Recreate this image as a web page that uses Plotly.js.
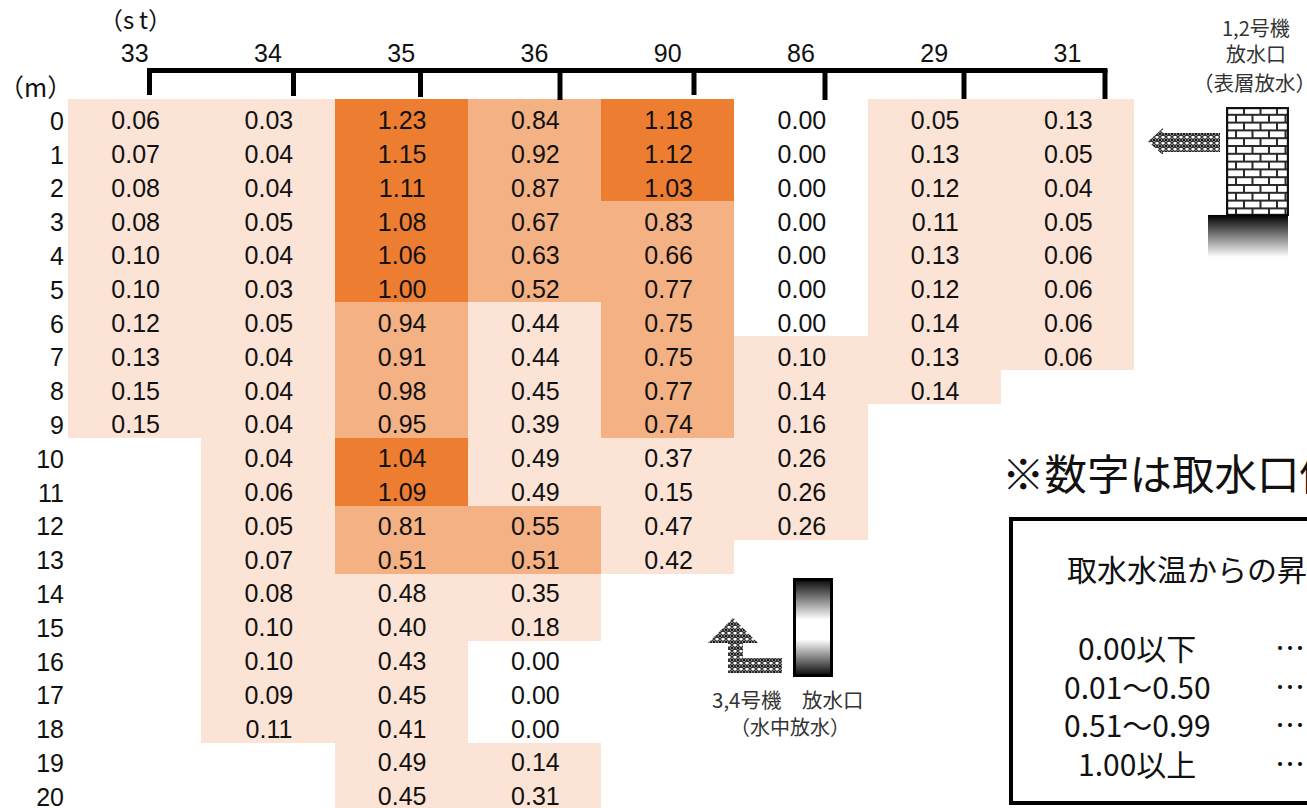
<!DOCTYPE html>
<html><head><meta charset="utf-8">
<script src="https://cdn.plot.ly/plotly-3.0.1.min.js"></script>
<style>html,body{margin:0;padding:0;background:#fff;overflow:hidden}#c{width:1307px;height:808px}</style>
</head><body><div id="c"></div>
<script>
const stations = ['33','34','35','36','90','86','29','31'];
const depths = ['0','1','2','3','4','5','6','7','8','9','10','11','12','13','14','15','16','17','18','19','20'];
const st33 = [0.06,0.07,0.08,0.08,0.10,0.10,0.12,0.13,0.15,0.15];
const st34 = [0.03,0.04,0.04,0.05,0.04,0.03,0.05,0.04,0.04,0.04,0.04,0.06,0.05,0.07,0.08,0.10,0.10,0.09,0.11];
const st35 = [1.23,1.15,1.11,1.08,1.06,1.00,0.94,0.91,0.98,0.95,1.04,1.09,0.81,0.51,0.48,0.40,0.43,0.45,0.41,0.49,0.45];
const st36 = [0.84,0.92,0.87,0.67,0.63,0.52,0.44,0.44,0.45,0.39,0.49,0.49,0.55,0.51,0.35,0.18,0.00,0.00,0.00,0.14,0.31];
const st90 = [1.18,1.12,1.03,0.83,0.66,0.77,0.75,0.75,0.77,0.74,0.37,0.15,0.47,0.42];
const st86 = [0.00,0.00,0.00,0.00,0.00,0.00,0.00,0.10,0.14,0.16,0.26,0.26,0.26];
const st29 = [0.05,0.13,0.12,0.11,0.13,0.12,0.14,0.13,0.14];
const st31 = [0.13,0.05,0.04,0.05,0.06,0.06,0.06,0.06];
const columns = [st33,st34,st35,st36,st90,st86,st29,st31];

const colorWhite='#FFFFFF', colorLow='#FBE3D6', colorMid='#F4B183', colorHigh='#ED7D31';
const Z_MAX=1.5;
const colorscale=[[0,colorWhite],[0.005/Z_MAX,colorWhite],[0.005/Z_MAX,colorLow],[0.505/Z_MAX,colorLow],
  [0.505/Z_MAX,colorMid],[0.995/Z_MAX,colorMid],[0.995/Z_MAX,colorHigh],[1,colorHigh]];

const z = depths.map((d,r)=>columns.map(c=> r<c.length ? c[r] : null));
const tx=[],ty=[],tt=[];
columns.forEach((c,i)=>c.forEach((v,r)=>{tx.push(stations[i]);ty.push(depths[r]);tt.push(v.toFixed(2));}));

const PW=1066,PH=709,L=68,T=99;
const X=p=>(p-L)/PW, Y=p=>1-(p-T)/PH;
const JP='"Noto Sans CJK JP","Liberation Sans",sans-serif';
const LAT='"Liberation Sans",Arial,sans-serif';

const traces=[
 {type:'heatmap',x:stations,y:depths,z:z,colorscale:colorscale,zmin:0,zmax:Z_MAX,showscale:false,hoverongaps:false,xgap:0,ygap:0},
 {type:'scatter',mode:'text',x:tx,y:ty,text:tt,xaxis:'x2',yaxis:'y3',textposition:'middle center',
  textfont:{family:LAT,size:25,color:'#111'},cliponaxis:false,showlegend:false}
];

const line=(x0,y0,x1,y1,w,c)=>({type:'line',xref:'paper',yref:'paper',x0:X(x0),x1:X(x1),y0:Y(y0),y1:Y(y1),line:{color:c||'#000',width:w}});
const bracketX=[149.5,293.5,420.5,560,694,825,964,1105];
const bracketEnd=[95,96,97,100,95,100,99,99];
const shapes=[line(147,70.5,1107.5,70.5,5)];
bracketX.forEach((x,i)=>shapes.push(line(x,70,x,bracketEnd[i],5)));
shapes.push({type:'rect',xref:'paper',yref:'paper',x0:X(1011),x1:X(1340),y0:Y(519),y1:Y(803),line:{color:'#000',width:4},fillcolor:'rgba(0,0,0,0)'});

const ann=(text,x,y,size,anchor,color,font)=>({text:text,xref:'paper',yref:'paper',x:X(x),y:Y(y),xanchor:anchor||'center',yanchor:'middle',showarrow:false,
  font:{family:font||JP,size:size,color:color||'#111'},align:'center'});
const annotations=[
 ann('（s\u2009t）',135,19,24,'center','#111'),
 ann('（m）',35,86,25,'center','#111'),
 ann('1,2号機',1256,28,20,'center','#333'),
 ann('放水口',1256,53,20,'center','#333'),
 ann('（表層放水）',1254,82,20.5,'center','#333'),
 ann('3,4号機　放水口',787,699,20.5,'center','#333'),
 ann('（水中放水）',790,726,20,'center','#333'),
 ann('※数字は取水口側',1000,472,42.5,'left','#111'),
 ann('取水水温からの昇温',1065,568,30,'left','#111'),
 ann('0.00以下',1137,647,30,'center','#111'),
 ann('0.01～0.50',1137,686,30,'center','#111'),
 ann('0.51～0.99',1137,724,30,'center','#111'),
 ann('1.00以上',1137,763,30,'center','#111'),
 ann('…',1290,646,30,'center','#111'),
 ann('…',1290,685,30,'center','#111'),
 ann('…',1290,723,30,'center','#111'),
 ann('…',1290,762,30,'center','#111')
];

const svg=(w,h,body)=>'data:image/svg+xml;charset=utf-8,'+encodeURIComponent(
 `<svg xmlns="http://www.w3.org/2000/svg" width="${w}" height="${h}" viewBox="0 0 ${w} ${h}">${body}</svg>`);
const dither=`<defs><pattern id="d" width="6" height="6" patternUnits="userSpaceOnUse"><rect width="6" height="6" fill="#fff"/><path d="M3 0L6 3L3 6L0 3Z" fill="none" stroke="#333" stroke-width="1.5"/><circle cx="0" cy="0" r="1.2" fill="#111"/><circle cx="6" cy="6" r="1.2" fill="#111"/><circle cx="6" cy="0" r="1.2" fill="#111"/><circle cx="0" cy="6" r="1.2" fill="#111"/></pattern></defs>`;

const BRICK_ROWS=14, BRICK_H=7.8;
let bricks='<rect x="0" y="0" width="63" height="109" fill="#fff"/>';
for(let r=1;r<BRICK_ROWS;r++){bricks+=`<rect x="0" y="${r*BRICK_H-1}" width="63" height="2" fill="#2a2a2a"/>`;}
for(let r=0;r<BRICK_ROWS;r++){for(let b=(r%2?9:17);b<62;b+=16.5){bricks+=`<rect x="${b}" y="${r*BRICK_H}" width="2" height="${BRICK_H}" fill="#2a2a2a"/>`;}}
bricks+='<rect x="1" y="1" width="61" height="107" fill="none" stroke="#111" stroke-width="2.4"/>';

const wallGrad=`<defs><linearGradient id="g" x1="0" y1="0" x2="0" y2="1"><stop offset="0" stop-color="#000"/><stop offset="1" stop-color="#fff"/></linearGradient></defs><rect width="80" height="42" fill="url(#g)"/>`;
const outGrad=`<defs><linearGradient id="g" x1="0" y1="0" x2="0" y2="1"><stop offset="0" stop-color="#000"/><stop offset="0.42" stop-color="#fff"/><stop offset="0.62" stop-color="#fff"/><stop offset="1" stop-color="#000"/></linearGradient></defs><rect width="40" height="99" fill="url(#g)"/><rect x="1.5" y="1.5" width="37" height="96" fill="none" stroke="#000" stroke-width="3"/>`;
const arrowLeft=dither+`<path d="M0 13.5L15 0L15 5L72 5L72 24L15 24L15 27Z" fill="url(#d)"/>`;
const arrowUp=dither+`<path d="M25 0L50 25L35 25L35 40L74 40L74 55L20 55L20 25L0 25Z" fill="url(#d)"/>`;

const img=(src,x,y,w,h)=>({source:src,xref:'paper',yref:'paper',x:X(x),y:Y(y),sizex:w/PW,sizey:h/PH,xanchor:'left',yanchor:'top',sizing:'stretch',layer:'above'});
const images=[
 img(svg(63,109,bricks),1226,107,63,109),
 img(svg(80,42,wallGrad),1208,215,80,42),
 img(svg(72,27,arrowLeft),1148,128,72,27),
 img(svg(74,55,arrowUp),708,618,74,55),
 img(svg(40,99,outGrad),793,578,40,99)
];

const layout={
 width:1307,height:808,margin:{l:L,t:T,r:1307-L-PW,b:0},paper_bgcolor:'#fff',plot_bgcolor:'#fff',showlegend:false,
 xaxis:{type:'category',side:'top',categoryorder:'array',categoryarray:stations,range:[-0.5,7.5],tickmode:'array',tickvals:stations,ticktext:stations,
   ticks:'',ticklabelstandoff:31,showgrid:false,zeroline:false,showline:false,tickfont:{family:LAT,size:25,color:'#111'},fixedrange:true},
 xaxis2:{type:'category',overlaying:'x',categoryorder:'array',categoryarray:stations,range:[-0.508,7.492],visible:false,fixedrange:true},
 yaxis:{type:'category',categoryorder:'array',categoryarray:depths,range:[20.414,-0.5],showticklabels:false,ticks:'',showgrid:false,zeroline:false,showline:false,fixedrange:true},
 yaxis2:{type:'category',overlaying:'y',side:'left',categoryorder:'array',categoryarray:depths,range:[20.326,-0.651],tickmode:'array',tickvals:depths,ticktext:depths,
   ticks:'',ticklabelstandoff:3,showgrid:false,zeroline:false,showline:false,tickfont:{family:LAT,size:25,color:'#111'},fixedrange:true},
 yaxis3:{type:'category',overlaying:'y',anchor:'x2',categoryorder:'array',categoryarray:depths,range:[20.267,-0.710],visible:false,fixedrange:true},
 shapes:shapes,annotations:annotations,images:images
};
// a hidden trace keeps the row-label axis drawn
traces.push({type:'scatter',mode:'none',x:[stations[0]],y:[depths[0]],yaxis:'y2',showlegend:false,hoverinfo:'skip'});
Plotly.newPlot('c',traces,layout,{displayModeBar:false,staticPlot:true});
</script></body></html>
